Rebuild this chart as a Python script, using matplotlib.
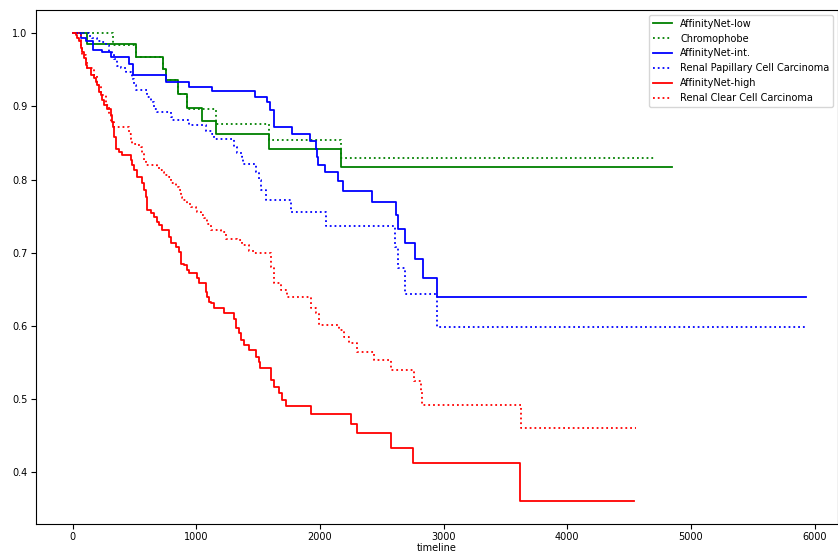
#Load packages
import numpy as np
import matplotlib.pyplot as plt

# =============================================================================
# Kaplan-Meier estimates (timeline, survival)
# =============================================================================
low_t = [0, 112, 509, 726, 751, 854, 921, 1045, 1161, 1590, 2173, 4850]
low_s = [1.0, 0.985, 0.967, 0.951, 0.936, 0.917, 0.898, 0.880, 0.862, 0.842, 0.817, 0.817]

chromo_t = [0, 328, 509, 726, 751, 854, 921, 1161, 1590, 2173, 4700]
chromo_s = [1.0, 0.984, 0.967, 0.951, 0.936, 0.917, 0.897, 0.876, 0.854, 0.829, 0.829]

int_t = [0, 63, 108, 166, 239, 312, 456, 490, 751, 937, 1126, 1471, 1569, 1595, 1628,
         1776, 1917, 1965, 1973, 1982, 2042, 2143, 2190, 2418, 2613, 2627, 2688, 2767,
         2834, 2945, 5930]
int_s = [1.0, 0.994, 0.990, 0.977, 0.974, 0.967, 0.958, 0.943, 0.933, 0.927, 0.921, 0.913,
         0.906, 0.895, 0.872, 0.863, 0.853, 0.842, 0.831, 0.820, 0.810, 0.798, 0.785, 0.769,
         0.751, 0.733, 0.713, 0.691, 0.666, 0.640, 0.640]

papil_t = [0, 131, 158, 198, 239, 265, 292, 320, 333, 360, 387, 427, 468, 482, 495, 508,
           603, 630, 657, 684, 792, 805, 940, 1075, 1129, 1142, 1304, 1331, 1372, 1377,
           1480, 1507, 1520, 1561, 1768, 2046, 2607, 2627, 2688, 2945, 5930]
papil_s = [1.0, 0.997, 0.994, 0.990, 0.988, 0.984, 0.974, 0.972, 0.965, 0.956, 0.952, 0.947,
           0.945, 0.938, 0.929, 0.922, 0.913, 0.906, 0.897, 0.892, 0.886, 0.881, 0.874, 0.867,
           0.863, 0.856, 0.845, 0.836, 0.831, 0.821, 0.811, 0.799, 0.786, 0.772, 0.756, 0.737,
           0.708, 0.679, 0.644, 0.598, 0.598]

high_t = [0, 23, 36, 49, 63, 77, 90, 104, 117, 144, 171, 185, 198, 211, 225, 239, 252, 279,
          306, 320, 328, 333, 346, 373, 400, 468, 482, 495, 522, 563, 576, 589, 603, 630,
          657, 684, 697, 724, 778, 792, 832, 859, 873, 899, 927, 940, 1008, 1021, 1075,
          1089, 1102, 1115, 1142, 1223, 1304, 1318, 1345, 1358, 1385, 1425, 1480, 1507,
          1515, 1601, 1628, 1669, 1696, 1722, 1925, 2249, 2303, 2572, 2751, 3616, 4542]
high_s = [1.0, 0.998, 0.993, 0.989, 0.980, 0.975, 0.966, 0.957, 0.952, 0.943, 0.939, 0.934,
          0.929, 0.920, 0.916, 0.909, 0.902, 0.897, 0.888, 0.879, 0.872, 0.858, 0.842, 0.838,
          0.833, 0.827, 0.820, 0.813, 0.804, 0.795, 0.786, 0.776, 0.758, 0.754, 0.749, 0.742,
          0.738, 0.731, 0.722, 0.713, 0.708, 0.701, 0.685, 0.683, 0.676, 0.672, 0.665, 0.658,
          0.647, 0.640, 0.633, 0.631, 0.624, 0.617, 0.610, 0.597, 0.590, 0.581, 0.574, 0.567,
          0.558, 0.551, 0.542, 0.526, 0.517, 0.508, 0.499, 0.490, 0.479, 0.466, 0.454, 0.433,
          0.412, 0.361, 0.361]

clear_t = [0, 63, 77, 104, 117, 171, 198, 225, 265, 292, 306, 333, 454, 468, 482, 522, 549,
           563, 576, 589, 684, 697, 724, 738, 778, 792, 832, 859, 873, 886, 927, 954, 994,
           1008, 1035, 1062, 1089, 1115, 1196, 1237, 1331, 1372, 1426, 1466, 1601, 1628,
           1682, 1736, 1925, 1965, 1992, 2154, 2194, 2235, 2303, 2437, 2572, 2761, 2815,
           2829, 3624, 4553]
clear_s = [1.0, 0.980, 0.970, 0.961, 0.952, 0.943, 0.929, 0.916, 0.902, 0.888, 0.879, 0.872,
           0.863, 0.856, 0.849, 0.847, 0.845, 0.836, 0.827, 0.820, 0.817, 0.813, 0.811, 0.806,
           0.804, 0.795, 0.790, 0.786, 0.776, 0.772, 0.767, 0.763, 0.760, 0.756, 0.751, 0.747,
           0.740, 0.731, 0.728, 0.719, 0.717, 0.710, 0.703, 0.699, 0.681, 0.658, 0.649, 0.640,
           0.624, 0.617, 0.601, 0.594, 0.585, 0.576, 0.565, 0.553, 0.540, 0.524, 0.510, 0.492,
           0.460, 0.460]

curves = [(low_t, low_s, 'green', '-', 'AffinityNet-low'),
          (chromo_t, chromo_s, 'green', ':', 'Chromophobe'),
          (int_t, int_s, 'blue', '-', 'AffinityNet-int.'),
          (papil_t, papil_s, 'blue', ':', 'Renal Papillary Cell Carcinoma'),
          (high_t, high_s, 'red', '-', 'AffinityNet-high'),
          (clear_t, clear_s, 'red', ':', 'Renal Clear Cell Carcinoma')]

# =============================================================================
# Plot survival curves
# =============================================================================
fig = plt.figure(figsize=(8.38, 5.54), dpi=100)
ax = fig.add_subplot(1, 1, 1)
fig.subplots_adjust(left=0.043, right=1.0, top=0.982, bottom=0.054)

for t, s, c, ls, lab in curves:
    ax.step(t, s, where='post', color=c, linestyle=ls, linewidth=1.3, label=lab)

ax.set_xlim(-297, 6190)
ax.set_xticks(np.arange(0, 6001, 1000))
ax.set_yticks(np.arange(0.4, 1.01, 0.1))
ax.tick_params(labelsize=7, pad=2.5)
ax.set_xlabel('timeline', fontsize=7, labelpad=0.5)
ax.legend(loc='upper right', fontsize=7)

fig.savefig('out.png', dpi=100)
